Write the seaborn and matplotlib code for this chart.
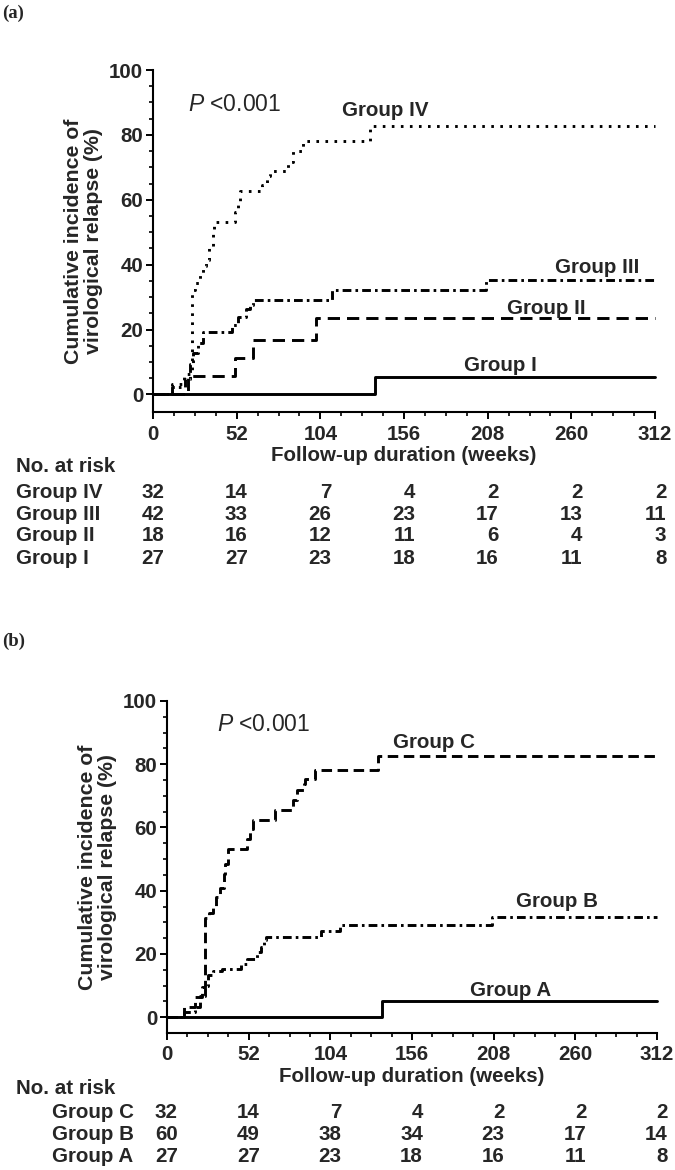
import numpy as np
import pandas as pd
import matplotlib
matplotlib.use("Agg")
import matplotlib.pyplot as plt
import matplotlib.transforms as mtrans
from matplotlib.ticker import FixedLocator
import seaborn as sns

# ---- data ----
week_ticks = [0, 52, 104, 156, 208, 260, 312]

# panel (a)
a_g1_x = [0, 138, 312]
a_g1_y = [0, 5.3, 5.3]
a_g2_x = [0, 22, 51, 62, 101, 312]
a_g2_y = [0, 5.6, 11.1, 16.7, 23.6, 23.6]
a_g3_x = [0, 12, 20, 23, 25, 28, 31, 49, 53, 58, 60, 62, 111, 207, 312]
a_g3_y = [0, 2.4, 4.8, 9.5, 12.8, 15.9, 19.2, 21.4, 23.8, 26.2, 27.5, 29.2, 32.1, 35.4, 35.4]
a_g4_x = [0, 12, 19, 24, 26, 29, 31, 33, 35, 37, 38, 51, 53, 54, 68, 71, 73, 84, 87, 93, 135, 312]
a_g4_y = [0, 3.1, 6.3, 32.3, 34.4, 37.4, 39.5, 41.5, 45.0, 50.0, 53.1, 56.3, 59.4, 62.6,
          64.6, 67.2, 68.8, 71.8, 75.0, 78.1, 82.6, 82.6]

a_groups = ["Group IV", "Group III", "Group II", "Group I"]
a_risk_g4 = [32, 14, 7, 4, 2, 2, 2]
a_risk_g3 = [42, 33, 26, 23, 17, 13, 11]
a_risk_g2 = [18, 16, 12, 11, 6, 4, 3]
a_risk_g1 = [27, 27, 23, 18, 16, 11, 8]

# panel (b)
b_ga_x = [0, 137, 312]
b_ga_y = [0, 5.1, 5.1]
b_gb_x = [0, 11, 18, 21, 24, 26, 29, 35, 47, 51, 57, 60, 62, 63, 98, 110, 207, 312]
b_gb_y = [0, 1.7, 3.3, 6.7, 10.0, 13.3, 14.6, 15.3, 16.9, 18.5, 20.6, 22.2, 24.3, 25.3,
          27.4, 29.0, 31.6, 31.6]
b_gc_x = [0, 11, 18, 22, 24, 27, 29, 31, 34, 36, 37, 39, 51, 53, 55, 69, 80, 83, 87, 88,
          94, 134.5, 312]
b_gc_y = [0, 3.1, 6.3, 9.4, 31.3, 32.8, 34.8, 38.0, 41.0, 45.3, 48.5, 53.1, 56.3, 59.4,
          62.5, 65.6, 68.8, 71.9, 73.8, 75.4, 78.1, 82.5, 82.5]

b_groups = ["Group C", "Group B", "Group A"]
b_risk_gc = [32, 14, 7, 4, 2, 2, 2]
b_risk_gb = [60, 49, 38, 34, 23, 17, 14]
b_risk_ga = [27, 27, 23, 18, 16, 11, 8]

# ---- style ----
sns.set_theme(style="ticks")
plt.rcParams["font.family"] = ["Liberation Sans", "DejaVu Sans"]
plt.rcParams["font.weight"] = "bold"
plt.rcParams["mathtext.fontset"] = "custom"
plt.rcParams["mathtext.it"] = "Liberation Sans:italic:normal"
plt.rcParams["mathtext.rm"] = "Liberation Sans:normal"

FS = 14.8
W, H = 675, 1170
fig = plt.figure(figsize=(6.75, 11.7), dpi=100)

dotted = (0, (0.9, 2.2))
dashed = (0, (4.2, 2.4))
dashed_c = (0, (3.6, 1.9))
dashdot = (0, (3.0, 1.4, 0.9, 1.4))


def step(ax, x, y, ls):
    sns.lineplot(x=x, y=y, ax=ax, color="black", lw=2.1, drawstyle="steps-post",
                 linestyle=ls, estimator=None, clip_on=False)


def style_axes(ax, ymin, spine_px):
    ax.set_xlim(0, 312)
    ax.set_ylim(ymin, 100)
    sns.despine(ax=ax)
    for s in ["left", "bottom"]:
        ax.spines[s].set_linewidth(1.5)
        ax.spines[s].set_color("black")
    ax.set_xticks(week_ticks)
    ax.set_yticks(range(0, 101, 20))
    ax.xaxis.set_minor_locator(FixedLocator(range(0, 313, 13)))
    ax.yaxis.set_minor_locator(FixedLocator(range(0, 101, 5)))
    ax.tick_params(which="major", length=5, width=1.4, color="black",
                   labelsize=FS, pad=2)
    ax.tick_params(axis="x", which="major", pad=4)
    ax.tick_params(which="minor", length=3, width=1.2, color="black")
    for lab in ax.get_xticklabels() + ax.get_yticklabels():
        lab.set_fontweight("bold")
    ax.set_xlabel("Follow-up duration (weeks)", fontsize=FS, fontweight="bold", labelpad=2)
    ax.set_ylabel("")
    fig.text((spine_px - 69.5) / W, ax.get_position().y0 + ax.get_position().height * 0.5,
             "Cumulative incidence of\nvirological relapse (%)", rotation=90,
             ha="center", va="center", multialignment="center",
             fontsize=15.3, fontweight="bold", linespacing=1.12)


def risk_table(ax, names, rows, title_y, row_ys, name_px):
    trans = mtrans.blended_transform_factory(ax.transData, fig.transFigure)
    fig.text(15.5 / W, title_y, "No. at risk", ha="left", va="center",
             fontsize=FS, fontweight="bold")
    for name, vals, yy in zip(names, rows, row_ys):
        fig.text(name_px / W, yy, name, ha="left", va="center",
                 fontsize=FS, fontweight="bold")
        for t, v in zip(week_ticks, vals):
            ax.text(t + 7, yy, str(v), transform=trans, ha="right", va="center",
                    fontsize=FS, fontweight="bold", clip_on=False)


# ---- panel (a) ----
ax1 = fig.add_axes([153 / W, 1 - 412 / H, 502 / W, 342 / H])
step(ax1, a_g4_x, a_g4_y, dotted)
step(ax1, a_g3_x, a_g3_y, dashdot)
step(ax1, a_g2_x, a_g2_y, dashed)
step(ax1, a_g1_x, a_g1_y, "-")
style_axes(ax1, -5.4, 153)
ax1.text(22, 89.5, r"$\mathit{P}$ <0.001", fontsize=16.5, fontweight="normal",
         ha="left", va="center")
ax1.text(144.5, 87.5, "Group IV", ha="center", va="center", fontsize=FS, fontweight="bold")
ax1.text(276, 39, "Group III", ha="center", va="center", fontsize=FS, fontweight="bold")
ax1.text(244.6, 26.4, "Group II", ha="center", va="center", fontsize=FS, fontweight="bold")
ax1.text(216, 8.8, "Group I", ha="center", va="center", fontsize=FS, fontweight="bold")
risk_table(ax1, a_groups, [a_risk_g4, a_risk_g3, a_risk_g2, a_risk_g1],
           1 - 467 / H, [1 - 492 / H, 1 - 514 / H, 1 - 536 / H, 1 - 558 / H], 15.5)
fig.text(2 / W, 1 - 13 / H, "(a)", family=["Liberation Serif"], fontweight="bold",
         fontsize=13.5, ha="left", va="center")

# ---- panel (b) ----
ax2 = fig.add_axes([167 / W, 1 - 1033 / H, 490 / W, 332 / H])
step(ax2, b_gc_x, b_gc_y, dashed_c)
step(ax2, b_gb_x, b_gb_y, dashdot)
step(ax2, b_ga_x, b_ga_y, "-")
style_axes(ax2, -5.0, 167)
ax2.text(31.6, 92.5, r"$\mathit{P}$ <0.001", fontsize=16.5, fontweight="normal",
         ha="left", va="center")
ax2.text(170, 86.9, "Group C", ha="center", va="center", fontsize=FS, fontweight="bold")
ax2.text(248.6, 36.5, "Group B", ha="center", va="center", fontsize=FS, fontweight="bold")
ax2.text(219, 8.4, "Group A", ha="center", va="center", fontsize=FS, fontweight="bold")
risk_table(ax2, b_groups, [b_risk_gc, b_risk_gb, b_risk_ga],
           1 - 1088 / H, [1 - 1113 / H, 1 - 1135 / H, 1 - 1157 / H], 52.5)
fig.text(2 / W, 1 - 641 / H, "(b)", family=["Liberation Serif"], fontweight="bold",
         fontsize=13.5, ha="left", va="center")

fig.savefig("out.png", dpi=100)
